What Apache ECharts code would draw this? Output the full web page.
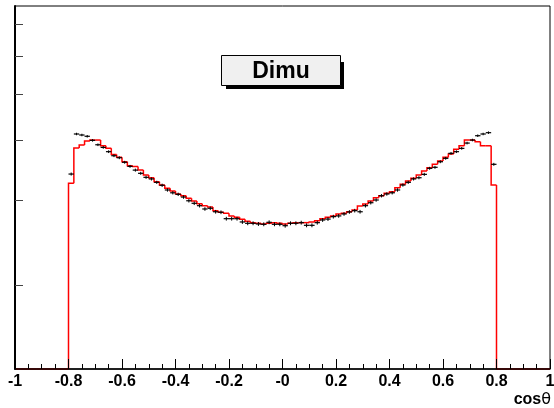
<!DOCTYPE html>
<html>
<head>
<meta charset="utf-8">
<script src="https://cdn.jsdelivr.net/npm/echarts@6/dist/echarts.min.js"></script>
<style>
  html, body { margin: 0; padding: 0; background: #fff; }
  #chart { width: 554px; height: 408px; }
</style>
</head>
<body>
<div id="chart"></div>
<script>
// cos(theta) distribution: 100 bins of width 0.02 over [-1, 1];
// the filled acceptance window is [-0.8, 0.8] (80 bins).
const axisLow = -1, axisHigh = 1;
const binLow = -0.8, binWidth = 0.02, nOuter = 10;

// Simulated (red histogram) contents, bins from -0.8 upward
const mcCounts = [
  3258, 3859, 3914, 3991, 4010, 4010, 3901, 3853, 3743, 3690,
  3613, 3544, 3530, 3471, 3390, 3346, 3283, 3231, 3181, 3140,
  3095, 3069, 3031, 2993, 2954, 2926, 2908, 2857, 2835, 2822,
  2786, 2768, 2741, 2716, 2697, 2689, 2680, 2689, 2697, 2689,
  2680, 2689, 2697, 2697, 2697, 2706, 2723, 2749, 2768, 2786,
  2812, 2822, 2842, 2866, 2921, 2950, 2993, 3040, 3069, 3105,
  3128, 3190, 3242, 3294, 3336, 3390, 3456, 3512, 3569, 3626,
  3690, 3749, 3835, 3901, 4010, 4010, 3977, 3901, 3901, 3231
];

// Measured (black points) contents, same binning
const dataCounts = [
  3406, 4128, 4108, 4083, 4004, 3920, 3871, 3792, 3719, 3683,
  3604, 3534, 3471, 3418, 3353, 3327, 3273, 3227, 3155, 3113,
  3090, 3050, 2996, 2960, 2926, 2880, 2890, 2842, 2835, 2749,
  2749, 2749, 2706, 2689, 2689, 2680, 2676, 2702, 2676, 2676,
  2658, 2689, 2689, 2697, 2663, 2663, 2697, 2732, 2744, 2776,
  2786, 2812, 2839, 2857, 2842, 2926, 2968, 3007, 3069, 3095,
  3113, 3155, 3231, 3273, 3327, 3346, 3401, 3501, 3518, 3613,
  3673, 3762, 3792, 3853, 3952, 4010, 4094, 4128, 4154, 3569
];
const dataErr = 25;

// Axis settings
const xTickLabels = ['-1', '-0.8', '-0.6', '-0.4', '-0.2', '-0', '0.2', '0.4', '0.6', '0.8', '1'];
const yTickValues = [2000, 3000, 4000, 5000, 6000, 7000];
const yMin = 1336, yMax = 7631;

// Histogram rows: [low edge, high edge, content, previous content]
const mcRows = [];
let prev = yMin;
for (let i = 0; i < 100; i++) {
  const lo = axisLow + i * binWidth;
  const k = i - nOuter;
  const c = (k >= 0 && k < mcCounts.length) ? mcCounts[k] : yMin; // empty bins sit on the floor
  mcRows.push([lo, lo + binWidth, c, prev]);
  prev = c;
}
const dataRows = dataCounts.map((c, k) => [binLow + (k + 0.5) * binWidth, c, dataErr]);

const chart = echarts.init(document.getElementById('chart'), null, { renderer: 'canvas' });

chart.setOption({
  animation: false,
  backgroundColor: '#fff',
  grid: {
    left: 15, right: 4, top: 6, bottom: 39,
    outerBoundsMode: 'none', containLabel: false,
    show: true, borderColor: '#000', borderWidth: 1, backgroundColor: 'transparent'
  },
  xAxis: {
    type: 'value', min: axisLow, max: axisHigh, interval: 0.2, z: 5,
    axisLine: { show: true, onZero: false, lineStyle: { color: '#000', width: 1.5 } },
    axisTick: { show: true, inside: true, length: 10, lineStyle: { color: '#000', width: 1 } },
    minorTick: { show: true, splitNumber: 4, length: 5, lineStyle: { color: '#000', width: 1 } },
    splitLine: { show: false },
    axisLabel: {
      margin: 5,
      fontFamily: 'Liberation Sans, Arial, sans-serif',
      fontWeight: 'bold', fontSize: 16, color: '#000',
      showMinLabel: true, showMaxLabel: true,
      formatter: v => xTickLabels[Math.round((v - axisLow) / 0.2)]
    }
  },
  yAxis: {
    type: 'log', logBase: 10, min: yMin, max: yMax, z: 5,
    axisLine: { show: true, onZero: false, lineStyle: { color: '#000', width: 2 } },
    axisTick: { show: true, inside: true, length: 8, customValues: yTickValues,
                lineStyle: { color: '#444', width: 1 } },
    axisLabel: { show: false },
    splitLine: { show: false }
  },
  graphic: [
    // Legend box with drop shadow
    { type: 'rect', shape: { x: 226, y: 62, width: 118, height: 27 }, style: { fill: '#000' }, z: 10 },
    { type: 'rect', shape: { x: 221.5, y: 55.5, width: 119, height: 30 },
      style: { fill: '#f0f0f0', stroke: '#000', lineWidth: 1 }, z: 11 },
    { type: 'text', x: 281, y: 71.5, z: 12,
      style: { text: 'Dimu', align: 'center', verticalAlign: 'middle',
               font: 'bold 23px "Liberation Sans", Arial, sans-serif', fill: '#000' } },
    // Axis title
    { type: 'text', x: 551, y: 400, z: 12,
      style: {
        text: '{b|cos}{t|θ}', align: 'right', verticalAlign: 'middle',
        rich: {
          b: { font: 'bold 16px "Liberation Sans", Arial, sans-serif', fill: '#000' },
          t: { font: '16px "DejaVu Sans", sans-serif', fill: '#000' }
        }
      } }
  ],
  series: [
    {
      name: 'MC', type: 'custom', z: 3,
      data: mcRows,
      encode: { x: [0, 1], y: [2, 3] },
      renderItem: (params, api) => {
        const x0 = api.coord([api.value(0), yMin])[0];
        const x1 = api.coord([api.value(1), yMin])[0];
        const y = api.coord([0, api.value(2)])[1];
        const yp = api.coord([0, api.value(3)])[1];
        return {
          type: 'polyline',
          shape: { points: [[x0, yp], [x0, y], [x1, y]] },
          style: { stroke: '#ff0000', lineWidth: 1.5, fill: null }
        };
      }
    },
    {
      name: 'Data', type: 'custom', z: 4,
      data: dataRows,
      encode: { x: 0, y: 1 },
      renderItem: (params, api) => {
        const xc = api.value(0), c = api.value(1), e = api.value(2);
        const pl = api.coord([xc - binWidth / 2, c]);
        const pr = api.coord([xc + binWidth / 2, c]);
        const pc = api.coord([xc, c]);
        const ph = api.coord([xc, c + e]);
        const pb = api.coord([xc, c - e]);
        return {
          type: 'group',
          children: [
            { type: 'line', shape: { x1: pl[0], y1: pl[1], x2: pr[0], y2: pr[1] },
              style: { stroke: '#000', lineWidth: 1.2 } },
            { type: 'line', shape: { x1: pc[0], y1: ph[1], x2: pc[0], y2: pb[1] },
              style: { stroke: '#000', lineWidth: 1 } }
          ]
        };
      }
    }
  ]
});
</script>
</body>
</html>
